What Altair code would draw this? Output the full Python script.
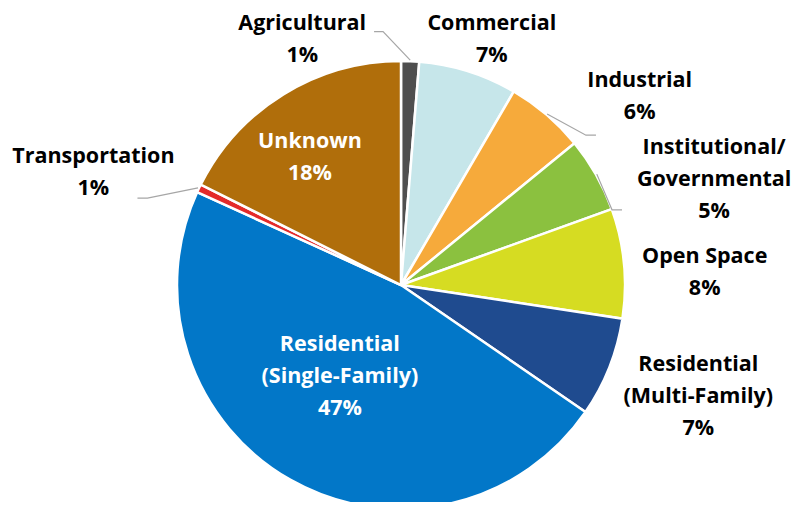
import altair as alt
import numpy as np
import pandas as pd

# ---- data ----
categories = ["Agricultural", "Commercial", "Industrial", "Institutional/Governmental",
              "Open Space", "Residential (Multi-Family)", "Residential (Single-Family)",
              "Transportation", "Unknown"]
shares = [1.3, 7.1, 5.7, 5.4, 7.9, 7.2, 47.2, 0.6, 17.6]
label_lines = [["Agricultural"], ["Commercial"], ["Industrial"],
               ["Institutional/", "Governmental"], ["Open Space"],
               ["Residential", "(Multi-Family)"], ["Residential", "(Single-Family)"],
               ["Transportation"], ["Unknown"]]
colors = ["#4f4f4f", "#c6e6ea", "#f6aa3b", "#8bc13f", "#d6dc22",
          "#1f4b8f", "#0277c8", "#e42a2a", "#b06e0b"]
label_colors = ["black", "black", "black", "black", "black", "black", "white", "black", "white"]

# ---- layout (label placement, polar: degrees clockwise from 12 o'clock, px radius) ----
W, H = 783, 494
CX, CY = 393, 277
R = 224
LH = 32
label_angle = [338.2, 20.2, 51.5, 71.1, 87.4, 110.3, 214.1, 290.3, 324.8]
label_radius = [266, 263, 305, 331, 304, 317, 109, 328, 158]
# leader lines: elbow (polar) and horizontal tail length (signed px)
leader_cats = ["Agricultural", "Industrial", "Institutional/Governmental", "Transportation"]
leader_elbow_angle = [-4.05, 51.0, 70.4, 288.9]
leader_elbow_radius = [254, 238, 224, 268]
leader_tail = [-9, 10, 10, -10]

df = pd.DataFrame({"category": categories, "share": shares, "idx": range(len(categories))})
full = [ln + [f"{round(v):.0f}%"] for ln, v in zip(label_lines, shares)]
df["label"] = ["\n".join(x) for x in full]
nlines = np.array([len(x) for x in full])
df["lcolor"] = label_colors
a = np.radians(label_angle)
df["lx"] = CX + np.array(label_radius) * np.sin(a)
df["ly"] = CY - np.array(label_radius) * np.cos(a) - (nlines - 1) / 2 * LH + 2

# slice mid angles from data
cum = np.cumsum(shares)
mid = (cum - np.array(shares) / 2) / 100 * 360
mid_of = dict(zip(categories, mid))
rows = []
for k, c in enumerate(leader_cats):
    m = np.radians(mid_of[c])
    p0 = (CX + (R + 1) * np.sin(m), CY - (R + 1) * np.cos(m))
    e = np.radians(leader_elbow_angle[k])
    p1 = (CX + leader_elbow_radius[k] * np.sin(e), CY - leader_elbow_radius[k] * np.cos(e))
    p2 = (p1[0] + leader_tail[k], p1[1])
    for j, p in enumerate([p0, p1, p2]):
        rows.append({"cat": c, "o": j, "x": p[0], "y": p[1]})
ldf = pd.DataFrame(rows)

pie = alt.Chart(df).mark_arc(outerRadius=R, stroke="white", strokeWidth=2.5).encode(
    theta=alt.Theta("share:Q", stack=True),
    color=alt.Color("category:N", scale=alt.Scale(domain=categories, range=colors), legend=None),
    order=alt.Order("idx:Q"),
    x=alt.value(CX),
    y=alt.value(CY),
)

leaders = alt.Chart(ldf).mark_line(color="#a6a6a6", strokeWidth=1.2).encode(
    x=alt.X("x:Q", scale=None, axis=None),
    y=alt.Y("y:Q", scale=None, axis=None),
    detail="cat:N",
    order="o:Q",
)

labels = alt.Chart(df).mark_text(
    font="Open Sans", fontWeight="bold", fontSize=21.5, lineBreak="\n", lineHeight=LH,
    align="center", baseline="middle",
).encode(
    x=alt.X("lx:Q", scale=None, axis=None),
    y=alt.Y("ly:Q", scale=None, axis=None),
    text="label:N",
    color=alt.Color("lcolor:N", scale=None),
)

chart = alt.layer(pie, leaders, labels).properties(
    width=W, height=H, padding=0, autosize="none"
).configure_view(stroke=None)

chart.save("out.html", embed_options={"renderer": "svg", "actions": False})
